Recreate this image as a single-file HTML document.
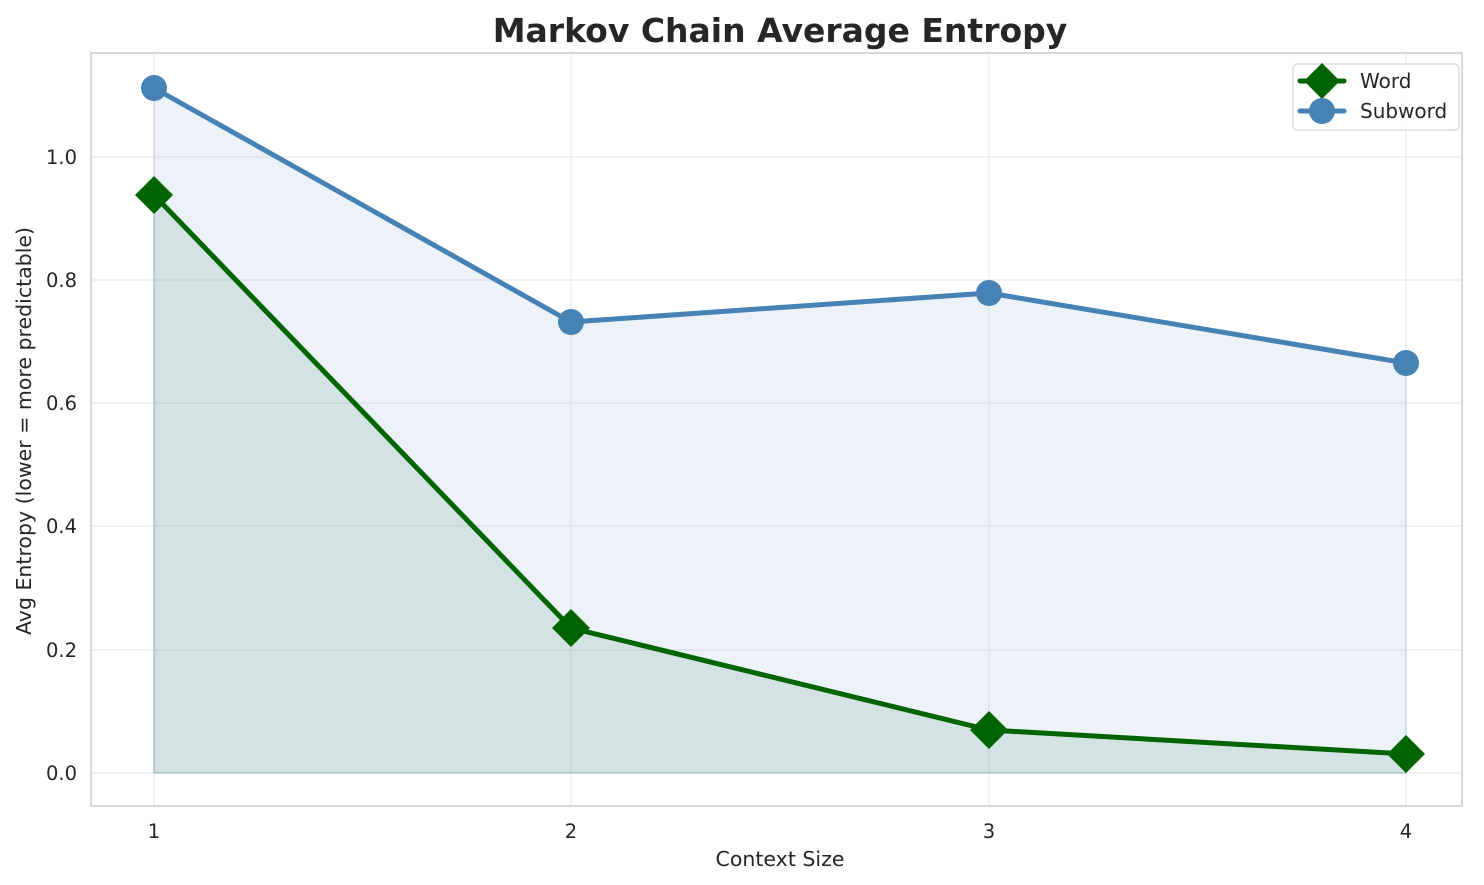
<!DOCTYPE html>
<html><head><meta charset="utf-8"><style>
html,body{margin:0;padding:0;background:#fff;}
svg{display:block;font-family:"DejaVu Sans","Liberation Sans",sans-serif;}
</style></head><body>
<svg width="1484" height="885" viewBox="0 0 1484 885" xmlns="http://www.w3.org/2000/svg">
<rect width="1484" height="885" fill="#fff"/>
<g stroke="#ebebeb" stroke-width="1.2">
<line x1="154" y1="53" x2="154" y2="806"/><line x1="571" y1="53" x2="571" y2="806"/>
<line x1="989" y1="53" x2="989" y2="806"/><line x1="1406" y1="53" x2="1406" y2="806"/>
<line x1="91" y1="773" x2="1462" y2="773"/><line x1="91" y1="650" x2="1462" y2="650"/>
<line x1="91" y1="526" x2="1462" y2="526"/><line x1="91" y1="403" x2="1462" y2="403"/>
<line x1="91" y1="280" x2="1462" y2="280"/><line x1="91" y1="157" x2="1462" y2="157"/>
</g>
<polygon points="154,88 571,322 989,293 1406,363 1406,773 154,773" fill="#4a7ec4" fill-opacity="0.1" stroke="#4a7ec4" stroke-opacity="0.15" stroke-width="1.5"/>
<polygon points="154,195 571,628 989,730 1406,754 1406,773 154,773" fill="#2a7a50" fill-opacity="0.13" stroke="#2a7a50" stroke-opacity="0.15" stroke-width="1.5"/>
<polyline points="154,88 571,322 989,293 1406,363" fill="none" stroke="#4682b4" stroke-width="5" stroke-linejoin="round"/>
<g fill="#4682b4"><circle cx="154" cy="88" r="13"/><circle cx="571" cy="322" r="13"/><circle cx="989" cy="293" r="13"/><circle cx="1406" cy="363" r="13"/></g>
<polyline points="154,195 571,628 989,730 1406,754" fill="none" stroke="#006400" stroke-width="5" stroke-linejoin="round"/>
<g fill="#006400">
<polygon points="154,176 173,195 154,214 135,195"/><polygon points="571,609 590,628 571,647 552,628"/>
<polygon points="989,711 1008,730 989,749 970,730"/><polygon points="1406,735 1425,754 1406,773 1387,754"/>
</g>
<rect x="91" y="53" width="1371" height="753" fill="none" stroke="#cccccc" stroke-width="1.5"/>
<g font-size="19.5" fill="#262626" text-anchor="middle">
<text x="154" y="838">1</text><text x="571" y="838">2</text><text x="989" y="838">3</text><text x="1406" y="838">4</text>
</g>
<g font-size="19.5" fill="#262626" text-anchor="end">
<text x="77" y="780">0.0</text><text x="77" y="657">0.2</text><text x="77" y="533">0.4</text>
<text x="77" y="410">0.6</text><text x="77" y="287">0.8</text><text x="77" y="164">1.0</text>
</g>
<text x="780" y="866" font-size="20.5" fill="#262626" text-anchor="middle">Context Size</text>
<text transform="translate(31,431) rotate(-90)" font-size="20.5" fill="#262626" text-anchor="middle">Avg Entropy (lower = more predictable)</text>
<text x="780" y="42" font-size="33" font-weight="bold" fill="#262626" text-anchor="middle">Markov Chain Average Entropy</text>
<rect x="1293" y="64" width="166" height="66" rx="4" fill="#fff" fill-opacity="0.85" stroke="#d5d5d5" stroke-width="1.2"/>
<line x1="1300" y1="81" x2="1344" y2="81" stroke="#006400" stroke-width="5" stroke-linecap="round"/>
<polygon points="1322,63 1340,81 1322,99 1304,81" fill="#006400"/>
<line x1="1300" y1="111" x2="1344" y2="111" stroke="#4682b4" stroke-width="5" stroke-linecap="round"/>
<circle cx="1322" cy="111" r="13" fill="#4682b4"/>
<text x="1360" y="88" font-size="20" fill="#262626">Word</text>
<text x="1360" y="118" font-size="20" fill="#262626">Subword</text>
</svg>
</body></html>
